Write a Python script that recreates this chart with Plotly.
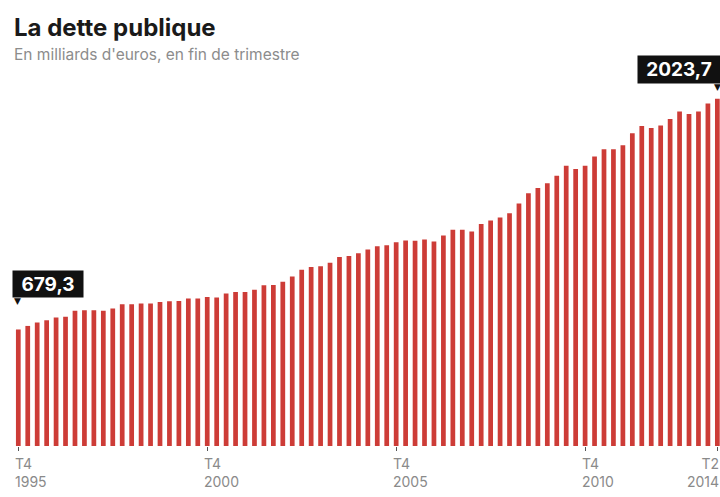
import plotly.graph_objects as go

# Quarterly categories: T4 1995 .. T2 2014
quarters = []
for yr in range(1995, 2015):
    for q in (1, 2, 3, 4):
        if (yr == 1995 and q < 4) or (yr == 2014 and q > 2):
            continue
        quarters.append(f"T{q} {yr}")

debt = [679.3, 700, 720, 733, 749, 753, 788, 792, 792, 788,
        802, 827, 827, 831, 831, 840, 844, 846, 860, 860,
        869, 866, 889, 898, 898, 911, 937, 939, 957, 988,
        1027, 1044, 1048, 1069, 1102, 1107, 1124, 1146, 1165, 1171,
        1188, 1198, 1196, 1204, 1192, 1227, 1260, 1260, 1250, 1294,
        1315, 1332, 1357, 1414, 1474, 1504, 1532, 1576, 1634, 1615,
        1634, 1688, 1730, 1730, 1754, 1824, 1866, 1854, 1868, 1907,
        1950, 1936, 1950, 1997, 2023.7]

tick_cats = ["T4 1995", "T4 2000", "T4 2005", "T4 2010", "T2 2014"]
tick_text = ["T4<br>1995", "T4<br>2000", "T4<br>2005", "T4<br>2010", "T2<br>2014"]

first_label = "679,3"
last_label = "2023,7"
title = "La dette publique"
subtitle = "En milliards d'euros, en fin de trimestre"

W, H = 720, 497
MT, MB = 60, 51
PH = H - MT - MB

font = "Inter, Roboto, sans-serif"

fig = go.Figure()
fig.add_trace(go.Bar(x=quarters, y=debt, marker=dict(color="#cd3c37", line=dict(width=0)),
                     hoverinfo="skip"))

annotations = []
for c, t in zip(tick_cats, tick_text):
    last = c == tick_cats[-1]
    annotations.append(dict(x=c, y=0, xref="x", yref="y", text=t, showarrow=False,
                            xanchor="right" if last else "left", yanchor="top",
                            xshift=4 if last else -5, yshift=-7, align="right" if last else "left",
                            font=dict(family=font, size=14, color="#8a8a8a")))

# value boxes
annotations.append(dict(x=quarters[0], y=debt[0], xref="x", yref="y", text="<b>%s</b>" % first_label,
                        showarrow=False, xanchor="left", yanchor="bottom", xshift=-6, yshift=31,
                        bgcolor="#111111", width=70, height=26, borderpad=0,
                        font=dict(family=font, size=19, color="white")))
annotations.append(dict(x=quarters[0], y=debt[0], xref="x", yref="y", text="▼",
                        showarrow=False, xanchor="center", yanchor="bottom", xshift=-1, yshift=21,
                        font=dict(family="DejaVu Sans", size=9, color="#111111")))
annotations.append(dict(x=quarters[-1], y=debt[-1], xref="x", yref="y", text="<b>%s</b>" % last_label,
                        showarrow=False, xanchor="right", yanchor="bottom", xshift=4, yshift=15,
                        bgcolor="#111111", width=82, height=27, borderpad=0,
                        font=dict(family=font, size=19, color="white")))
annotations.append(dict(x=quarters[-1], y=debt[-1], xref="x", yref="y", text="▼",
                        showarrow=False, xanchor="center", yanchor="bottom", xshift=0, yshift=5,
                        font=dict(family="DejaVu Sans", size=9, color="#111111")))

# title / subtitle (paper y measured relative to plot area)
annotations.append(dict(x=12 / W, y=1 + (MT - 28) / PH, xref="paper", yref="paper",
                        xanchor="left", yanchor="middle", text="<b>%s</b>" % title, showarrow=False,
                        font=dict(family=font, size=24, color="#1a1a1a")))
annotations.append(dict(x=12 / W, y=1 + (MT - 55) / PH, xref="paper", yref="paper",
                        xanchor="left", yanchor="middle", text=subtitle, showarrow=False,
                        font=dict(family=font, size=15.5, color="#8c8c8c")))

fig.update_layout(
    width=W, height=H,
    margin=dict(l=0, r=0, t=MT, b=MB),
    paper_bgcolor="white", plot_bgcolor="white",
    bargap=0.5,
    showlegend=False,
    xaxis=dict(type="category", range=[-1.937, 74.28], showgrid=False, zeroline=False,
               showline=False, tickmode="array", tickvals=tick_cats, ticktext=[""] * 5,
               ticks="outside", ticklen=4, tickcolor="#555555", tickwidth=1),
    yaxis=dict(range=[0, PH / 0.17153], visible=False, fixedrange=True),
    annotations=annotations,
)

fig.write_html("out.html")
